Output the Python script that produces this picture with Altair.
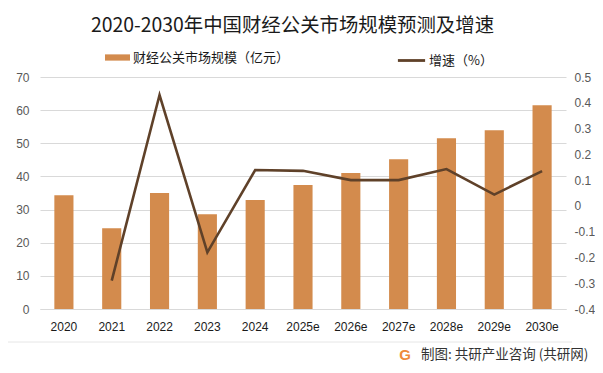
import altair as alt
import pandas as pd

years = ["2020", "2021", "2022", "2023", "2024", "2025e", "2026e", "2027e", "2028e", "2029e", "2030e"]
market_size = [34.3, 24.4, 35.0, 28.6, 32.9, 37.4, 41.0, 45.2, 51.5, 53.9, 61.5]
growth_years = ["2021", "2022", "2023", "2024", "2025e", "2026e", "2027e", "2028e", "2029e", "2030e"]
growth_rate = [-0.29, 0.43, -0.18, 0.139, 0.136, 0.10, 0.10, 0.143, 0.044, 0.135]
left_ticks = [0, 10, 20, 30, 40, 50, 60, 70]
right_ticks = [-0.4, -0.3, -0.2, -0.1, 0, 0.1, 0.2, 0.3, 0.4, 0.5]

title_text = "2020-2030年中国财经公关市场规模预测及增速"
bar_label = "财经公关市场规模（亿元）"
line_label = "增速（%）"
source_text = "制图: 共研产业咨询 (共研网)"

BAR_COLOR = "#D38B4D"
LINE_COLOR = "#5F4129"
CJK = "Noto Sans CJK SC"
NUM = "Liberation Sans"

df_bar = pd.DataFrame({"year": years, "value": market_size, "series": bar_label})
df_line = pd.DataFrame({"year": growth_years, "rate": growth_rate, "series": line_label})

x_enc = alt.X(
    "year:N", sort=years, title=None,
    scale=alt.Scale(paddingInner=0.6, paddingOuter=0.3),
    axis=alt.Axis(labelAngle=0, labelFont=NUM, labelFontSize=12, labelColor="#1a1a1a",
                  labelPadding=12, ticks=False, domainColor="#d9d9d9", domainWidth=1),
)

bars = alt.Chart(df_bar).mark_bar().encode(
    x=x_enc,
    y=alt.Y("value:Q", title=None,
            scale=alt.Scale(domain=[0, 70], nice=False),
            axis=alt.Axis(values=left_ticks, grid=True, gridColor="#d9d9d9", domain=False,
                          ticks=False, labelFont=NUM, labelFontSize=12, labelColor="#595959",
                          labelPadding=11)),
    fill=alt.Fill("series:N", scale=alt.Scale(range=[BAR_COLOR]),
                  legend=alt.Legend(title=None, orient="none", legendX=65, legendY=-32,
                                    symbolType="M-1,-0.25L1,-0.25L1,0.25L-1,0.25Z",
                                    symbolSize=625, symbolStrokeWidth=0, labelFont=CJK,
                                    labelFontSize=13, labelColor="#1a1a1a", labelOffset=3,
                                    padding=0)),
)

line = alt.Chart(df_line).mark_line(strokeWidth=2.6).encode(
    x=alt.X("year:N", sort=years),
    y=alt.Y("rate:Q", title=None,
            scale=alt.Scale(domain=[-0.4, 0.5], nice=False),
            axis=alt.Axis(orient="right", values=right_ticks, grid=False, domain=False,
                          ticks=False, labelFont=NUM, labelFontSize=12, labelColor="#595959",
                          labelPadding=8,
                          labelExpr="datum.value == 0 ? '0' : toString(round(datum.value * 10) / 10)")),
    stroke=alt.Stroke("series:N", scale=alt.Scale(range=[LINE_COLOR]),
                      legend=alt.Legend(title=None, orient="none", legendX=356, legendY=-32,
                                        symbolType="stroke", symbolSize=740, symbolStrokeWidth=2.8,
                                        labelFont=CJK, labelFontSize=13, labelColor="#1a1a1a",
                                        labelOffset=2, padding=0)),
)

title = alt.Chart(pd.DataFrame({"t": [title_text]})).mark_text(
    font=CJK, fontSize=19.4, color="#1a1a1a", align="center", baseline="middle"
).encode(text="t:N", x=alt.value(252.5), y=alt.value(-51))

sep = alt.Chart(pd.DataFrame({"k": [0]})).mark_rule(color="#e6e6e6", strokeWidth=1).encode(
    x=alt.value(-40), x2=alt.value(532), y=alt.value(265)
)

logo = alt.Chart(pd.DataFrame({"t": ["G"]})).mark_text(
    font=NUM, fontSize=15, fontWeight="bold", color="#EE8A3C", align="center", baseline="middle"
).encode(text="t:N", x=alt.value(365), y=alt.value(278))

source = alt.Chart(pd.DataFrame({"t": [source_text]})).mark_text(
    font=CJK, fontSize=13.5, color="#333333", align="left", baseline="middle"
).encode(text="t:N", x=alt.value(381), y=alt.value(278))

chart = alt.layer(bars, line, title, sep, logo, source).resolve_scale(
    y="independent", fill="independent", stroke="independent"
).properties(
    width=526, height=232,
    padding={"left": 32, "top": 69, "right": 29, "bottom": 56},
    autosize=alt.AutoSizeParams(type="none"),
).configure_view(stroke=None)

chart.save("out.html", embed_options={"renderer": "svg", "actions": False})
